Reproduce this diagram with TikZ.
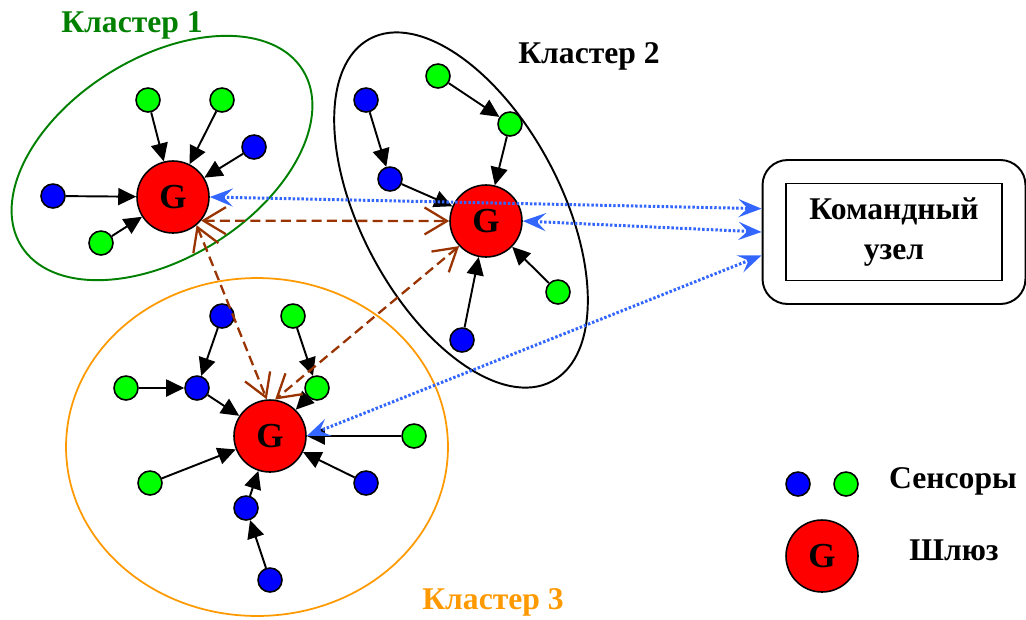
\documentclass[tikz,border=0pt]{standalone}
\usepackage{fontspec}
\setmainfont{Liberation Serif}
\usetikzlibrary{arrows.meta,positioning}

\begin{document}
\begin{tikzpicture}[x=0.02cm,y=-0.02cm]
\colorlet{sblue}{blue} \colorlet{sgreen}{green} \colorlet{gred}{red}
\definecolor{cgreen}{RGB}{0,128,0} \definecolor{corange}{RGB}{255,153,0}
\definecolor{lblue}{RGB}{51,102,255} \definecolor{brn}{RGB}{153,51,0}
\tikzset{sens/.style={circle,draw=black,line width=0.9pt,minimum size=0.48cm,inner sep=0pt},
bsens/.style={sens,fill=sblue},gsens/.style={sens,fill=sgreen},
gate/.style={circle,draw=black,line width=0.9pt,fill=gred,minimum size=1.44cm,inner sep=0pt,font=\fontsize{20}{20}\selectfont\bfseries},
edge/.style={line width=1.1pt,-{Triangle[length=0.36cm,width=0.34cm]}},
link/.style={lblue,line width=1.7pt,dash pattern=on 1.4pt off 1.1pt,{Stealth[length=0.46cm,width=0.36cm,inset=0.18cm]}-{Stealth[length=0.46cm,width=0.36cm,inset=0.18cm]}},
plink/.style={brn,line width=1.3pt,dash pattern=on 5.7pt off 3pt,{Straight Barb[length=0.45cm,width=0.54cm]}-{Straight Barb[length=0.45cm,width=0.54cm]}},
lab/.style={anchor=base,font=\fontsize{18}{22}\selectfont\bfseries}}
\useasboundingbox(0,0)rectangle(1026,619);

\draw[cgreen,line width=1.1pt,rotate around={32:(162,158)}](162,158)ellipse[x radius=3.32cm,y radius=2cm];
\draw[black,line width=1.1pt,rotate around={-62:(461,210)}](461,210)ellipse[x radius=3.88cm,y radius=2cm];
\draw[corange,line width=1pt](257,447)ellipse[x radius=3.82cm,y radius=3.38cm];

\node[lab,cgreen](lab1)at(132,32){Кластер 1};
\node[lab](lab2)at(589,63){Кластер 2};
\node[lab,corange](lab3)at(493,609){Кластер 3};

\node[gate](G1)at(173,197){G};
\node[gate](G2)at(486,221){G};
\node[gate](G3)at(270,436){G};

\foreach \name/\pos in {a3/{(254,147)},a4/{(53,196)},b1/{(366,100)},b4/{(390,179)},b6/{(462,340)},
c1/{(222,316)},c4/{(197,388)},c8/{(366,483)},c9/{(246,508)},c10/{(270,580)}}
\node[bsens](\name)at\pos{};
\foreach \name/\pos in {a1/{(148,100)},a2/{(222,100)},a5/{(101,243)},b2/{(438,76)},b3/{(510,124)},b5/{(558,292)},
c2/{(293,316)},c3/{(126,388)},c5/{(317,388)},c6/{(414,436)},c7/{(150,483)}}
\node[gsens](\name)at\pos{};

\foreach \a/\b in {a1/G1,a2/G1,a3/G1,a4/G1,a5/G1,b1/b4,b2/b3,b3/G2,b4/G2,b5/G2,b6/G2,
c1/c4,c3/c4,c4/G3,c2/c5,c5/G3,c6/G3,c7/G3,c8/G3,c9/G3,c10/c9}
\draw[edge](\a)--(\b);

\node[draw,line width=1.1pt,rounded corners=0.5cm,minimum width=5.26cm,minimum height=2.88cm](cmd)at(894,232){};
\node[draw,line width=0.9pt,minimum width=4.32cm,minimum height=1.94cm,align=center,
font=\fontsize{18}{22.7}\selectfont\bfseries](cmdtext)at(cmd){Командный\\узел};

\draw[plink](G1.-40)--(G2.west);
\draw[plink](G1.-50)--(G3.95);
\draw[plink](G2.-137)--(G3.82);

\draw[link](G1.east)--(cmd.170);
\draw[link](G2.east)--(cmd.west);
\draw[link](G3.east)--(cmd.190);

\node[bsens](ls1)at(798,484){};
\node[gsens](ls2)at(846,484){};
\node[gate](lg)at(822,556){G};
\node[lab](senslab)at(953,488){Сенсоры};
\node[lab](gatelab)at(954,560){Шлюз};
\end{tikzpicture}
\end{document}
